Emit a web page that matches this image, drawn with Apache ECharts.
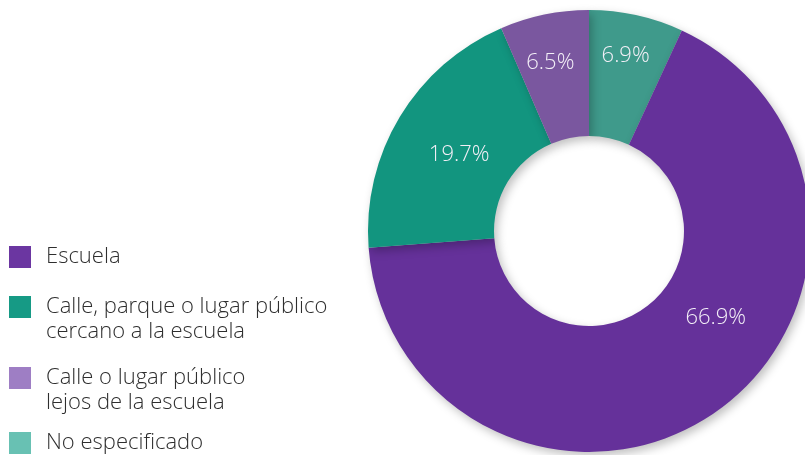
<!DOCTYPE html>
<html>
<head>
<meta charset="utf-8">
<script src="https://cdn.jsdelivr.net/npm/echarts@6/dist/echarts.min.js"></script>
<style>
  html, body { margin: 0; padding: 0; background: #ffffff; }
  #chart { width: 805px; height: 455px; }
</style>
</head>
<body>
<div id="chart"></div>
<script>
// Data (clockwise from 12 o'clock)
const categories = ['No especificado', 'Escuela', 'Calle, parque o lugar público\ncercano a la escuela', 'Calle o lugar público\nlejos de la escuela'];
const values = [6.9, 66.9, 19.7, 6.5];
const legendOrder = ['Escuela', 'Calle, parque o lugar público\ncercano a la escuela', 'Calle o lugar público\nlejos de la escuela', 'No especificado'];

const sliceColors = ['#3f9a8b', '#65319a', '#12957f', '#7a579f'];
const legendColors = {
  'Escuela': '#6b36a1',
  'Calle, parque o lugar público\ncercano a la escuela': '#169a85',
  'Calle o lugar público\nlejos de la escuela': '#9e7ec4',
  'No especificado': '#68c1b3'
};
const labelShift = [[2, -18], [35, -46], [8, 7], [-6, -11]];
const iconTops = [246, 296, 367, 432];

const chart = echarts.init(document.getElementById('chart'), null, { renderer: 'canvas' });

const FONT = '"Open Sans", Roboto, sans-serif';

const legends = legendOrder.map(function (name, i) {
  const twoLine = name.indexOf('\n') >= 0;
  return {
    orient: 'vertical',
    left: 9,
    top: iconTops[i] - (twoLine ? 26.5 : 1.5),
    padding: 0,
    itemWidth: 22,
    itemHeight: 22,
    itemGap: 0,
    selectedMode: false,
    icon: 'rect',
    formatter: function (n) { return n.indexOf('\n') >= 0 ? '\n' + n : n; },
    data: [{ name: name, itemStyle: { color: legendColors[name] } }],
    textStyle: {
      fontFamily: FONT,
      fontWeight: 300,
      fontSize: 22,
      lineHeight: 25,
      color: '#2e2e2e',
      padding: [0, 0, 0, 10]
    }
  };
});

chart.setOption({
  animation: false,
  backgroundColor: '#ffffff',
  legend: legends,
  series: [{
    type: 'pie',
    center: [589, 231],
    radius: [95, 221],
    startAngle: 90,
    clockwise: true,
    avoidLabelOverlap: false,
    data: categories.map(function (c, i) {
      return {
        name: c,
        value: values[i],
        itemStyle: { color: sliceColors[i] }
      };
    }),
    itemStyle: {
      borderWidth: 0,
      shadowBlur: 10,
      shadowColor: 'rgba(0,0,0,0.25)',
      shadowOffsetX: 3,
      shadowOffsetY: 4
    },
    label: {
      show: true,
      position: 'inside',
      formatter: function (p) { return p.value.toFixed(1) + '%'; },
      color: '#f3eff7',
      fontFamily: FONT,
      fontWeight: 300,
      fontSize: 22
    },
    labelLine: { show: false },
    labelLayout: function (params) {
      const s = labelShift[params.dataIndex];
      return { dx: s[0], dy: s[1] };
    },
    emphasis: { disabled: true }
  }]
});
</script>
</body>
</html>
